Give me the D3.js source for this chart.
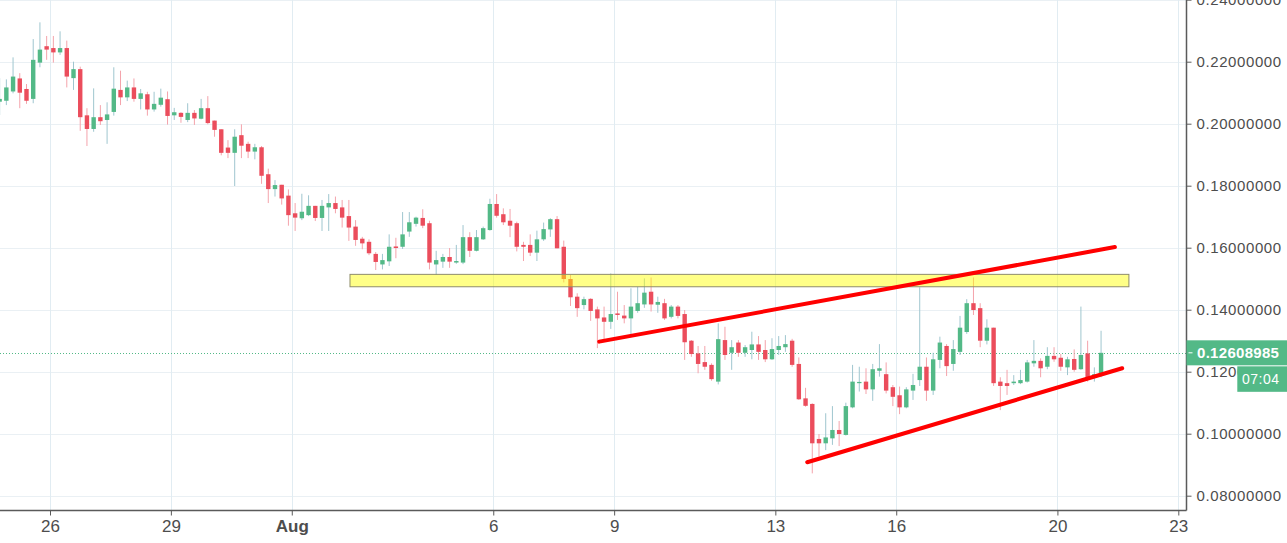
<!DOCTYPE html>
<html>
<head>
<meta charset="utf-8">
<script src="https://cdn.jsdelivr.net/npm/d3@7"></script>
<style>
  html, body { margin: 0; padding: 0; background: #fff; }
  #chart { width: 1287px; height: 543px; overflow: hidden; }
  text { font-family: "Liberation Sans", Arial, sans-serif; }
</style>
</head>
<body>
<div id="chart"></div>
<script>
        // Data: 4h candles, first bar Jul 24 18:00
        const firstBar = Date.UTC(2018, 6, 24, 18);
        const barHours = 4;

        const opens = [0.2071,0.2074,0.2104,0.2146,0.2112,0.2080,0.2197,0.2250,0.2244,0.2230,
            0.2244,0.2147,0.2176,0.2027,0.1983,0.2021,0.2012,0.2038,0.2109,0.2085,
            0.2117,0.2080,0.2095,0.2046,0.2061,0.2079,0.2027,0.2035,0.2012,0.2035,
            0.2016,0.2050,0.2010,0.1982,0.1923,0.1906,0.1963,0.1935,0.1910,0.1924,
            0.1837,0.1789,0.1803,0.1768,0.1711,0.1695,0.1705,0.1735,0.1696,0.1730,
            0.1744,0.1730,0.1702,0.1668,0.1629,0.1619,0.1580,0.1546,0.1556,0.1604,
            0.1603,0.1652,0.1677,0.1696,0.1679,0.1546,0.1555,0.1570,0.1552,0.1552,
            0.1634,0.1590,0.1627,0.1657,0.1741,0.1708,0.1687,0.1679,0.1609,0.1609,
            0.1584,0.1627,0.1659,0.1692,0.1603,0.1499,0.1442,0.1415,0.1435,0.1401,
            0.1375,0.1361,0.1388,0.1381,0.1372,0.1396,0.1417,0.1458,0.1416,0.1421,
            0.1377,0.1410,0.1386,0.1300,0.1259,0.1231,0.1222,0.1168,0.1302,0.1261,
            0.1294,0.1261,0.1270,0.1288,0.1270,0.1240,0.1270,0.1279,0.1300,0.1225,
            0.1114,0.1096,0.0983,0.0969,0.0985,0.1012,0.0996,0.1085,0.1163,0.1168,
            0.1143,0.1203,0.1192,0.1150,0.1124,0.1085,0.1139,0.1173,0.1216,0.1139,
            0.1238,0.1283,0.1225,0.1264,0.1328,0.1421,0.1405,0.1300,0.1342,0.1168,
            0.1163,0.1163,0.1163,0.1168,0.1227,0.1235,0.1216,0.1251,0.1245,0.1214,
            0.1241,0.1208,0.1259,0.1184,0.1186];
        const highs = [0.2147,0.2143,0.2214,0.2163,0.2128,0.2273,0.2327,0.2283,0.2283,0.2298,
            0.2268,0.2200,0.2184,0.2050,0.2114,0.2060,0.2069,0.2182,0.2171,0.2139,
            0.2146,0.2112,0.2103,0.2103,0.2113,0.2104,0.2051,0.2037,0.2066,0.2044,
            0.2080,0.2089,0.2010,0.1982,0.1947,0.1982,0.1998,0.1942,0.1935,0.1928,
            0.1855,0.1818,0.1803,0.1788,0.1744,0.1774,0.1769,0.1735,0.1754,0.1773,
            0.1765,0.1754,0.1754,0.1689,0.1635,0.1627,0.1586,0.1580,0.1643,0.1632,
            0.1715,0.1715,0.1700,0.1724,0.1687,0.1590,0.1580,0.1599,0.1609,0.1673,
            0.1650,0.1657,0.1668,0.1758,0.1773,0.1727,0.1725,0.1684,0.1619,0.1643,
            0.1655,0.1681,0.1695,0.1702,0.1623,0.1512,0.1453,0.1442,0.1437,0.1410,
            0.1410,0.1517,0.1458,0.1415,0.1469,0.1474,0.1501,0.1504,0.1442,0.1435,
            0.1415,0.1415,0.1399,0.1302,0.1283,0.1283,0.1227,0.1356,0.1345,0.1302,
            0.1302,0.1286,0.1329,0.1315,0.1302,0.1308,0.1315,0.1318,0.1306,0.1246,
            0.1148,0.1098,0.0999,0.1066,0.1089,0.1041,0.1100,0.1222,0.1216,0.1211,
            0.1225,0.1289,0.1230,0.1157,0.1152,0.1150,0.1193,0.1472,0.1246,0.1261,
            0.1313,0.1289,0.1302,0.1380,0.1434,0.1504,0.1421,0.1369,0.1342,0.1182,
            0.1206,0.1189,0.1206,0.1238,0.1302,0.1243,0.1279,0.1279,0.1257,0.1248,
            0.1272,0.1410,0.1300,0.1214,0.1332];
        const lows = [0.2028,0.2060,0.2098,0.2050,0.2064,0.2066,0.2182,0.2206,0.2197,0.2222,
            0.2117,0.2109,0.1977,0.1928,0.1974,0.1996,0.1935,0.2026,0.2060,0.2073,
            0.2071,0.2046,0.2026,0.2039,0.2055,0.1997,0.2012,0.2003,0.2005,0.1996,
            0.2014,0.1998,0.1958,0.1898,0.1889,0.1799,0.1889,0.1889,0.1885,0.1806,
            0.1744,0.1765,0.1739,0.1671,0.1654,0.1689,0.1702,0.1686,0.1654,0.1654,
            0.1711,0.1665,0.1622,0.1606,0.1595,0.1576,0.1528,0.1530,0.1541,0.1566,
            0.1596,0.1635,0.1668,0.1663,0.1530,0.1512,0.1535,0.1535,0.1548,0.1547,
            0.1570,0.1588,0.1625,0.1655,0.1697,0.1673,0.1634,0.1588,0.1557,0.1573,
            0.1557,0.1622,0.1635,0.1598,0.1488,0.1412,0.1377,0.1401,0.1364,0.1276,
            0.1302,0.1338,0.1367,0.1356,0.1318,0.1390,0.1406,0.1394,0.1390,0.1367,
            0.1372,0.1372,0.1238,0.1248,0.1195,0.1206,0.1171,0.1159,0.1238,0.1206,
            0.1248,0.1248,0.1240,0.1238,0.1231,0.1238,0.1254,0.1264,0.1216,0.1109,
            0.1087,0.0872,0.0926,0.0947,0.0964,0.0960,0.0994,0.1082,0.1136,0.1128,
            0.1106,0.1184,0.1130,0.1089,0.1063,0.1082,0.1109,0.1154,0.1106,0.1125,
            0.1211,0.1186,0.1203,0.1254,0.1322,0.1383,0.1279,0.1288,0.1154,0.1076,
            0.1125,0.1157,0.1160,0.1165,0.1216,0.1182,0.1208,0.1232,0.1203,0.1189,
            0.1200,0.1206,0.1168,0.1168,0.1182];
        const closes = [0.2080,0.2117,0.2152,0.2100,0.2074,0.2206,0.2239,0.2239,0.2230,0.2244,
            0.2152,0.2176,0.2021,0.1983,0.2021,0.2008,0.2030,0.2113,0.2085,0.2117,
            0.2080,0.2098,0.2046,0.2064,0.2084,0.2025,0.2037,0.2022,0.2035,0.2017,
            0.2050,0.2002,0.1980,0.1906,0.1906,0.1958,0.1929,0.1910,0.1924,0.1832,
            0.1789,0.1802,0.1759,0.1705,0.1697,0.1716,0.1735,0.1696,0.1735,0.1744,
            0.1725,0.1697,0.1665,0.1625,0.1614,0.1582,0.1554,0.1560,0.1603,0.1599,
            0.1643,0.1682,0.1697,0.1671,0.1552,0.1560,0.1570,0.1555,0.1557,0.1634,
            0.1590,0.1634,0.1663,0.1741,0.1703,0.1682,0.1671,0.1603,0.1603,0.1584,
            0.1627,0.1660,0.1692,0.1598,0.1499,0.1440,0.1405,0.1434,0.1396,0.1372,
            0.1361,0.1386,0.1383,0.1372,0.1410,0.1421,0.1455,0.1417,0.1425,0.1372,
            0.1410,0.1380,0.1295,0.1257,0.1225,0.1216,0.1176,0.1305,0.1254,0.1279,
            0.1261,0.1279,0.1288,0.1264,0.1240,0.1273,0.1283,0.1289,0.1222,0.1111,
            0.1090,0.0969,0.0969,0.0988,0.1012,0.0999,0.1089,0.1168,0.1167,0.1143,
            0.1208,0.1211,0.1139,0.1119,0.1085,0.1143,0.1157,0.1216,0.1139,0.1240,
            0.1294,0.1218,0.1273,0.1342,0.1421,0.1399,0.1300,0.1342,0.1163,0.1154,
            0.1154,0.1168,0.1173,0.1230,0.1235,0.1211,0.1251,0.1240,0.1216,0.1240,
            0.1206,0.1254,0.1179,0.1192,0.12608985];

        // Axis ticks
        const xTicks = [Date.UTC(2018,6,26), Date.UTC(2018,6,29), Date.UTC(2018,7,1), Date.UTC(2018,7,6),
            Date.UTC(2018,7,9), Date.UTC(2018,7,13), Date.UTC(2018,7,16), Date.UTC(2018,7,20), Date.UTC(2018,7,23)];
        const yTicks = [0.08, 0.10, 0.12, 0.14, 0.16, 0.18, 0.20, 0.22, 0.24];
        const countdown = "07:04";

        // Drawn annotations (time, price)
        const zoneTimes = [Date.UTC(2018,7,2,10,40), Date.UTC(2018,7,21,18,35)];
        const zonePrices = [0.1474, 0.1514];
        const upperLine = [[Date.UTC(2018,7,8,15,7), 0.1297], [Date.UTC(2018,7,21,10,15), 0.1602]];
        const lowerLine = [[Date.UTC(2018,7,13,19,0), 0.0908], [Date.UTC(2018,7,21,14,35), 0.1211]];

        const candles = opens.map((o, i) => ({
            t: new Date(firstBar + i * barHours * 3600e3),
            o, h: highs[i], l: lows[i], c: closes[i]
        }));

        // Layout
        const width = 1287;
        const height = 543;
        const plotRight = 1186.5;
        const plotBottom = 510.5;

        const svg = d3.select("#chart")
            .append("svg")
            .attr("width", width)
            .attr("height", height);

        svg.append("rect").attr("width", width).attr("height", height).attr("fill", "#fff");

        const x = d3.scaleUtc()
            .domain([new Date(xTicks[0]), new Date(xTicks[xTicks.length - 1])])
            .range([50, 1178.3]);
        const y = d3.scaleLinear()
            .domain([0.08, 0.24])
            .range([495.7, -0.3]);

        svg.append("defs").append("clipPath").attr("id", "plot")
            .append("rect").attr("x", 0).attr("y", 0).attr("width", plotRight).attr("height", plotBottom);

        // Grid
        const grid = svg.append("g").attr("clip-path", "url(#plot)");
        grid.selectAll("line.h")
            .data(yTicks)
            .enter()
            .append("line")
            .attr("x1", 0).attr("x2", plotRight)
            .attr("y1", d => Math.round(y(d)) + 0.5).attr("y2", d => Math.round(y(d)) + 0.5)
            .attr("stroke", "#eaf0f4");
        grid.selectAll("line.v")
            .data(xTicks)
            .enter()
            .append("line")
            .attr("x1", d => Math.round(x(d)) + 0.5).attr("x2", d => Math.round(x(d)) + 0.5)
            .attr("y1", 0).attr("y2", plotBottom)
            .attr("stroke", "#e1ecf2");

        // Last price dotted line
        const last = closes[closes.length - 1];
        svg.append("line")
            .attr("x1", 0).attr("x2", plotRight)
            .attr("y1", Math.round(y(last)) + 0.5).attr("y2", Math.round(y(last)) + 0.5)
            .attr("stroke", "#53b987")
            .attr("stroke-dasharray", "1,2");

        // Candles
        const plot = svg.append("g").attr("clip-path", "url(#plot)");
        const bodyW = 4.4;
        const candle = plot.selectAll("g.candle")
            .data(candles)
            .enter()
            .append("g");

        candle.append("line")
            .attr("x1", d => x(d.t)).attr("x2", d => x(d.t))
            .attr("y1", d => y(d.h)).attr("y2", d => y(d.l))
            .attr("stroke", d => d.c >= d.o ? "#9fc6cf" : "#f4a3ab")
            .attr("stroke-width", 1);

        candle.append("rect")
            .attr("x", d => x(d.t) - bodyW / 2)
            .attr("width", bodyW)
            .attr("y", d => y(Math.max(d.o, d.c)))
            .attr("height", d => Math.max(1, Math.abs(y(d.o) - y(d.c))))
            .attr("fill", d => d.c >= d.o ? "#53b987" : "#eb4d5c");

        // Support / resistance zone (see-through, candles show inside)
        plot.append("rect")
            .attr("x", x(zoneTimes[0]))
            .attr("width", x(zoneTimes[1]) - x(zoneTimes[0]))
            .attr("y", y(zonePrices[1]))
            .attr("height", y(zonePrices[0]) - y(zonePrices[1]))
            .attr("fill", "#ffff00")
            .attr("fill-opacity", 0.47)
            .attr("stroke", "#8f8d6b")
            .attr("stroke-width", 1);

        // Trend lines
        const trend = d3.line().x(d => x(d[0])).y(d => y(d[1]));
        [upperLine, lowerLine].forEach(pts => {
            plot.append("path")
                .attr("d", trend(pts))
                .attr("fill", "none")
                .attr("stroke", "#ff0000")
                .attr("stroke-width", 4)
                .attr("stroke-linecap", "round");
        });

        // Axes
        const xAxis = d3.axisBottom(x)
            .tickValues(xTicks.map(d => new Date(d)))
            .tickSize(5)
            .tickFormat(d => d.getUTCDate() === 1 ? d3.utcFormat("%b")(d) : d.getUTCDate());
        const gx = svg.append("g")
            .attr("transform", `translate(0,${plotBottom})`)
            .call(xAxis);
        gx.select(".domain").attr("d", `M0,0H${plotRight}`).attr("stroke", "#5a5a5a").attr("stroke-width", 1.5);
        gx.selectAll(".tick line").attr("stroke", "#5a5a5a");
        gx.selectAll(".tick text")
            .attr("y", 9)
            .attr("dy", "0.71em")
            .attr("fill", "#4d4d4d")
            .style("font-size", "17px")
            .style("font-family", "'Liberation Sans', Arial, sans-serif")
            .style("font-weight", d => d.getUTCDate() === 1 ? "bold" : "normal");

        const yAxis = d3.axisRight(y)
            .tickValues(yTicks)
            .tickSize(5)
            .tickPadding(5)
            .tickFormat(d3.format(".8f"));
        const gy = svg.append("g")
            .attr("transform", `translate(${plotRight},0)`)
            .call(yAxis);
        gy.select(".domain").attr("d", `M0,0V${plotBottom}`).attr("stroke", "#5a5a5a").attr("stroke-width", 1.5);
        gy.selectAll(".tick line").attr("stroke", "#5a5a5a");
        gy.selectAll(".tick text")
            .attr("fill", "#4d4d4d")
            .style("font-size", "15px")
            .style("letter-spacing", "0.6px")
            .style("font-family", "'Liberation Sans', Arial, sans-serif");

        // Last price label
        const ly = y(last);
        const priceTag = svg.append("g");
        priceTag.append("rect")
            .attr("x", plotRight).attr("y", ly - 12.5)
            .attr("width", width - plotRight).attr("height", 25)
            .attr("fill", "#53b987");
        priceTag.append("line")
            .attr("x1", plotRight + 2).attr("x2", plotRight + 6)
            .attr("y1", ly).attr("y2", ly)
            .attr("stroke", "#fff");
        priceTag.append("text")
            .attr("x", 1197).attr("y", ly)
            .attr("dy", "0.36em")
            .attr("fill", "#fff")
            .style("font-size", "15px")
            .style("font-weight", "bold")
            .style("letter-spacing", "0.3px")
            .text(d3.format(".8f")(last));

        // countdown box sits over the 0.12 tick label, as in the source
        priceTag.append("rect")
            .attr("x", 1237.3).attr("y", ly + 13.5)
            .attr("width", width - 1237.3).attr("height", 25.5)
            .attr("fill", "#53b987");
        priceTag.append("text")
            .attr("x", 1242).attr("y", ly + 26.5)
            .attr("dy", "0.36em")
            .attr("fill", "#fff")
            .style("font-size", "14px")
            .style("letter-spacing", "0.5px")
            .text(countdown);
</script>
</body>
</html>
